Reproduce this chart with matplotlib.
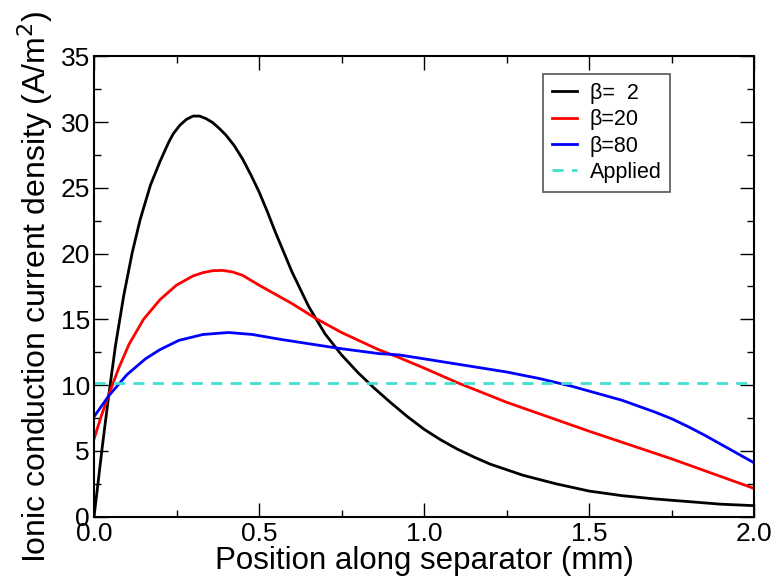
import matplotlib
matplotlib.use("Agg")
import matplotlib.pyplot as plt
from matplotlib.ticker import MultipleLocator

plt.rcParams["font.family"] = ["Liberation Sans", "DejaVu Sans"]

x_b2 = [0, 0.01, 0.025, 0.045, 0.065, 0.09, 0.116, 0.14, 0.171, 0.2, 0.227, 0.24, 0.26,
        0.28, 0.3, 0.32, 0.34, 0.36, 0.38, 0.4, 0.425, 0.45, 0.475, 0.5, 0.525, 0.55,
        0.575, 0.6, 0.65, 0.7, 0.75, 0.8, 0.85, 0.9, 0.95, 1.0, 1.05, 1.1, 1.15, 1.2,
        1.3, 1.4, 1.5, 1.6, 1.7, 1.8, 1.9, 2.0]
y_b2 = [0, 2.1, 5.3, 9.3, 13.0, 16.8, 20.1, 22.6, 25.2, 27.0, 28.5, 29.1, 29.75,
        30.2, 30.45, 30.45, 30.25, 29.95, 29.5, 29.0, 28.2, 27.2, 26.0, 24.7, 23.2, 21.6,
        20.1, 18.6, 16.0, 13.9, 12.3, 10.95, 9.75, 8.65, 7.6, 6.65, 5.85, 5.15, 4.55, 4.0,
        3.15, 2.5, 1.95, 1.6, 1.35, 1.15, 0.95, 0.84]

x_b20 = [0, 0.02, 0.045, 0.075, 0.106, 0.15, 0.2, 0.25, 0.3, 0.33, 0.36, 0.39, 0.42,
         0.45, 0.5, 0.55, 0.6, 0.67, 0.75, 0.862, 0.924, 1.0, 1.1, 1.25, 1.5, 1.75, 2.0]
y_b20 = [5.9, 7.5, 9.3, 11.3, 13.1, 15.0, 16.5, 17.6, 18.3, 18.55, 18.7, 18.72, 18.6,
         18.35, 17.6, 16.9, 16.2, 15.1, 14.0, 12.7, 12.1, 11.3, 10.2, 8.7, 6.5, 4.4, 2.15]

x_b80 = [0, 0.045, 0.1, 0.156, 0.2, 0.257, 0.33, 0.408, 0.48, 0.56, 0.65, 0.741, 0.862,
         0.924, 1.0, 1.1, 1.25, 1.35, 1.45, 1.5, 1.6, 1.65, 1.7, 1.75, 1.8, 1.85, 1.9,
         1.95, 2.0]
y_b80 = [7.6, 9.2, 10.8, 12.0, 12.7, 13.4, 13.85, 14.0, 13.85, 13.5, 13.15, 12.8, 12.4,
         12.3, 12.0, 11.6, 11.0, 10.5, 9.9, 9.55, 8.85, 8.4, 7.95, 7.45, 6.85, 6.2, 5.5,
         4.8, 4.1]

applied = 10.2

fig = plt.figure(figsize=(7.77, 5.79), dpi=100)
ax = fig.add_axes([0.121, 0.1076, 0.8494, 0.7953])

ax.plot(x_b2, y_b2, color="black", lw=2, label="β=  2")
ax.plot(x_b20, y_b20, color="red", lw=2, label="β=20")
ax.plot(x_b80, y_b80, color="blue", lw=2, label="β=80")
ax.axhline(applied, color="turquoise", lw=2, ls=(0, (4, 3)), label="Applied")

ax.set_xlim(0, 2.0)
ax.set_ylim(0, 35)
ax.xaxis.set_major_locator(MultipleLocator(0.5))
ax.xaxis.set_minor_locator(MultipleLocator(0.25))
ax.yaxis.set_major_locator(MultipleLocator(5))
ax.yaxis.set_minor_locator(MultipleLocator(2.5))
ax.xaxis.set_major_formatter(plt.FormatStrFormatter("%.1f"))
ax.tick_params(which="both", direction="in", top=True, right=True, labelsize=19)
ax.tick_params(axis="x", pad=4)
ax.tick_params(axis="y", pad=3)
ax.tick_params(which="major", length=10, width=1)
ax.tick_params(which="minor", length=5, width=1)
for s in ax.spines.values():
    s.set_linewidth(1.5)

ax.set_xlabel("Position along separator (mm)", fontsize=22.5, labelpad=0)
ax.set_ylabel("Ionic conduction current density (A/m$^2$)", fontsize=23, labelpad=4)

leg = ax.legend(loc="upper right", bbox_to_anchor=(0.873, 0.961), borderaxespad=0,
                fontsize=15.5, handlelength=1.15, handletextpad=0.6, fancybox=False,
                framealpha=1, edgecolor="#555555", borderpad=0.4, labelspacing=0.25)
leg.get_frame().set_linewidth(1.2)

fig.savefig("out.png", dpi=100)
